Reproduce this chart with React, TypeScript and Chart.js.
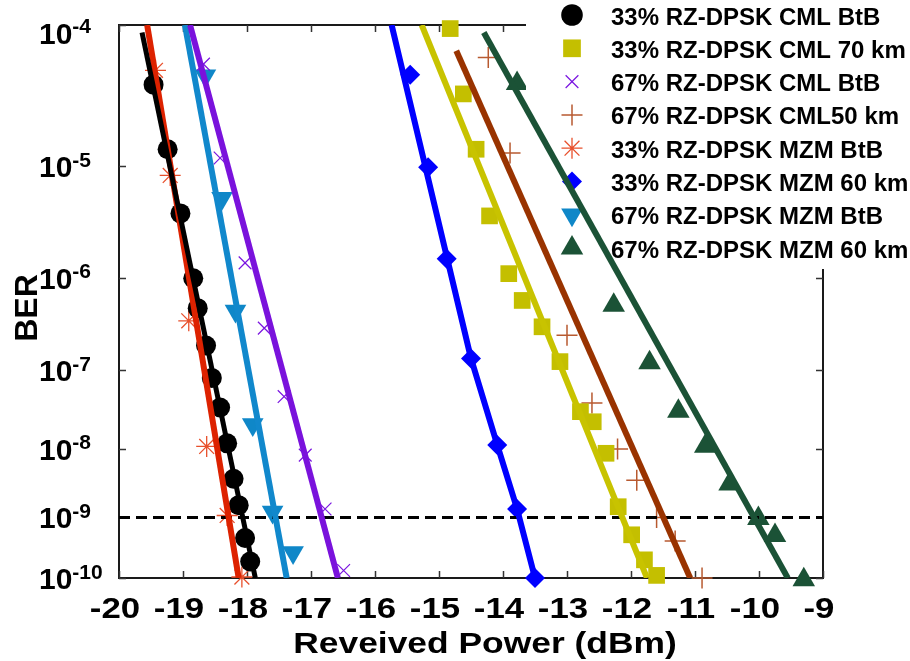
import React, { useEffect, useRef } from 'react';
import { Chart, registerables } from 'chart.js';

Chart.register(...registerables);

// ---------- axis definitions ----------
const xTickValues = [-20, -19, -18, -17, -16, -15, -14, -13, -12, -11, -10, -9];
const yTickExponents = [-4, -5, -6, -7, -8, -9, -10];
const xTitle = 'Reveived Power (dBm)';
const yTitle = 'BER';
const berThreshold = 1e-9;

// ---------- series (power in dBm, BER) ----------
const cmlBtb33X = [-19.46, -19.24, -19.04, -18.84, -18.77, -18.64, -18.55, -18.42, -18.31, -18.21, -18.13, -18.03, -17.95];
const cmlBtb33Y = [4.06e-5, 1.36e-5, 4.0e-6, 9.9e-7, 4.9e-7, 1.92e-7, 8.1e-8, 3.5e-8, 1.19e-8, 3.8e-9, 1.54e-9, 4.7e-10, 1.92e-10];
const cmlBtb33FitX = [-19.64, -17.87];
const cmlBtb33FitY = [8.97e-5, 1e-10];

const cml70km33X = [-14.825, -14.62, -14.42, -14.21, -13.91, -13.7, -13.39, -13.11, -12.79, -12.59, -12.39, -12.2, -11.99, -11.79, -11.6];
const cml70km33Y = [9.5e-5, 3.5e-5, 1.36e-5, 3.8e-6, 1.1e-6, 5.9e-7, 3.1e-7, 1.26e-7, 3.1e-8, 2.3e-8, 8.7e-9, 1.46e-9, 5.3e-10, 2.05e-10, 1.11e-10];
const cml70km33FitX = [-15.27, -11.75];
const cml70km33FitY = [1e-4, 1e-10];

const cmlBtb67X = [-18.68, -18.42, -18.03, -17.73, -17.42, -17.09, -16.78, -16.49];
const cmlBtb67Y = [5.6e-5, 1.16e-5, 1.4e-6, 3.0e-7, 4.8e-8, 8.2e-9, 1.35e-9, 1.35e-10];
const cmlBtb67FitX = [-18.89, -16.58];
const cmlBtb67FitY = [1e-4, 1e-10];

const cml50km67X = [-14.23, -13.89, -13.0, -12.61, -12.21, -11.91, -11.6, -11.31, -10.89];
const cml50km67Y = [6.2e-5, 1.27e-5, 2.5e-7, 4.0e-8, 1.0e-8, 3.6e-9, 1.0e-9, 4.2e-10, 1.0e-10];
const cml50km67FitX = [-14.73, -11.075];
const cml50km67FitY = [6.86e-5, 1e-10];

const mzmBtb33X = [-19.43, -19.2, -18.91, -18.63, -18.31, -18.08];
const mzmBtb33Y = [5.09e-5, 8.4e-6, 3.6e-7, 1.08e-8, 1.07e-9, 1.04e-10];
const mzmBtb33FitX = [-19.56, -18.13];
const mzmBtb33FitY = [1e-4, 1e-10];

const mzm60km33X = [-15.45, -15.17, -14.88, -14.5, -14.09, -13.78, -13.5];
const mzm60km33Y = [4.75e-5, 9.8e-6, 1.53e-6, 1.37e-7, 1.13e-8, 1.35e-9, 1.0e-10];
const mzm60km33FitX = [-15.74, -14.5, -14.09, -13.78, -13.5];
const mzm60km33FitY = [1e-4, 1.37e-7, 1.13e-8, 1.35e-9, 1e-10];

const mzmBtb67X = [-18.65, -18.39, -18.18, -17.91, -17.6, -17.28];
const mzmBtb67Y = [4.68e-5, 5.42e-6, 4.57e-7, 2.11e-8, 1.21e-9, 2.73e-10];
const mzmBtb67FitX = [-18.97, -17.38];
const mzmBtb67FitY = [1e-4, 1e-10];

const mzm60km67X = [-13.78, -12.27, -11.71, -11.26, -10.84, -10.46, -10.01, -9.75, -9.3];
const mzm60km67Y = [4.13e-5, 5.26e-7, 1.22e-7, 3.13e-8, 1.09e-8, 3.18e-9, 9.6e-10, 5.15e-10, 9.3e-11];
const mzm60km67FitX = [-14.3, -9.55];
const mzm60km67FitY = [8.97e-5, 1e-10];

// ---------- BER -> Q (dB) transform for the axis ----------
function erfc(x: number): number {
  const z = Math.abs(x);
  const t = 1 / (1 + 0.5 * z);
  const r =
    t *
    Math.exp(
      -z * z - 1.26551223 +
        t * (1.00002368 + t * (0.37409196 + t * (0.09678418 + t * (-0.18628806 + t * (0.27886807 + t * (-1.13520398 + t * (1.48851587 + t * (-0.82215223 + t * 0.17087277))))))))
    );
  return x >= 0 ? r : 2 - r;
}
function qFromBer(ber: number): number {
  let lo = 0;
  let hi = 40;
  for (let i = 0; i < 100; i++) {
    const mid = (lo + hi) / 2;
    if (0.5 * erfc(mid / Math.SQRT2) > ber) lo = mid;
    else hi = mid;
  }
  return (lo + hi) / 2;
}
function berAxis(ber: number): number {
  return 20 * Math.log10(qFromBer(ber));
}
function pts(xs: number[], ys: number[]) {
  return xs.map((x, i) => ({ x, y: berAxis(ys[i]) }));
}

const FONT = '"Liberation Sans", Arial, Helvetica, sans-serif';

type Series = {
  label: string;
  xs: number[];
  ys: number[];
  fx: number[];
  fy: number[];
  style: string;
  rotation?: number;
  radius: number;
  fill: string;
  stroke: string;
  markerBorder: number;
  lineColor: string;
  lineWidth: number;
};

const series: Series[] = [
  { label: '33% RZ-DPSK CML BtB', xs: cmlBtb33X, ys: cmlBtb33Y, fx: cmlBtb33FitX, fy: cmlBtb33FitY, style: 'circle', radius: 10, fill: '#000000', stroke: '#000000', markerBorder: 0, lineColor: '#000000', lineWidth: 5 },
  { label: '33% RZ-DPSK CML 70 km', xs: cml70km33X, ys: cml70km33Y, fx: cml70km33FitX, fy: cml70km33FitY, style: 'rect', radius: 11.8, fill: '#c4bf00', stroke: '#c4bf00', markerBorder: 0, lineColor: '#c8c300', lineWidth: 6 },
  { label: '67% RZ-DPSK CML BtB', xs: cmlBtb67X, ys: cmlBtb67Y, fx: cmlBtb67FitX, fy: cmlBtb67FitY, style: 'crossRot', radius: 9, fill: '#7a14e0', stroke: '#7a14e0', markerBorder: 1.2, lineColor: '#7a12dc', lineWidth: 6 },
  { label: '67% RZ-DPSK CML50 km', xs: cml50km67X, ys: cml50km67Y, fx: cml50km67FitX, fy: cml50km67FitY, style: 'cross', radius: 10.5, fill: '#b85a30', stroke: '#b85a30', markerBorder: 1.5, lineColor: '#993300', lineWidth: 6 },
  { label: '33% RZ-DPSK MZM BtB', xs: mzmBtb33X, ys: mzmBtb33Y, fx: mzmBtb33FitX, fy: mzmBtb33FitY, style: 'star', radius: 10.5, fill: '#e8502c', stroke: '#e8502c', markerBorder: 1.3, lineColor: '#dd2200', lineWidth: 6 },
  { label: '33% RZ-DPSK MZM 60 km', xs: mzm60km33X, ys: mzm60km33Y, fx: mzm60km33FitX, fy: mzm60km33FitY, style: 'rectRot', radius: 10, fill: '#0000ff', stroke: '#0000ff', markerBorder: 0, lineColor: '#0000ff', lineWidth: 6 },
  { label: '67% RZ-DPSK MZM BtB', xs: mzmBtb67X, ys: mzmBtb67Y, fx: mzmBtb67FitX, fy: mzmBtb67FitY, style: 'triangle', rotation: 180, radius: 12.5, fill: '#0f87c8', stroke: '#0f87c8', markerBorder: 0, lineColor: '#1188cc', lineWidth: 6 },
  { label: '67% RZ-DPSK MZM 60 km', xs: mzm60km67X, ys: mzm60km67Y, fx: mzm60km67FitX, fy: mzm60km67FitY, style: 'triangle', radius: 13, fill: '#1b5236', stroke: '#1b5236', markerBorder: 0, lineColor: '#1b5236', lineWidth: 6 },
];

function drawSymbol(ctx: CanvasRenderingContext2D, s: Series, x: number, y: number) {
  const r = s.radius;
  ctx.save();
  ctx.fillStyle = s.fill;
  ctx.strokeStyle = s.stroke;
  ctx.lineWidth = s.markerBorder || 1;
  ctx.beginPath();
  if (s.style === 'circle') {
    ctx.arc(x, y, r + 0.8, 0, Math.PI * 2);
    ctx.fill();
  } else if (s.style === 'rect') {
    const h = (Math.SQRT2 * r) / 2 + 0.5;
    ctx.fillRect(x - h, y - h, 2 * h, 2 * h);
  } else if (s.style === 'rectRot') {
    ctx.moveTo(x, y - r);
    ctx.lineTo(x + r, y);
    ctx.lineTo(x, y + r);
    ctx.lineTo(x - r, y);
    ctx.closePath();
    ctx.fill();
  } else if (s.style === 'triangle') {
    const rot = ((s.rotation || 0) * Math.PI) / 180;
    for (let k = 0; k < 3; k++) {
      const a = rot + (k * 2 * Math.PI) / 3;
      const px = x + Math.sin(a) * r;
      const py = y - Math.cos(a) * r;
      if (k === 0) ctx.moveTo(px, py);
      else ctx.lineTo(px, py);
    }
    ctx.closePath();
    ctx.fill();
  } else {
    const drawCross = () => {
      ctx.moveTo(x - r, y);
      ctx.lineTo(x + r, y);
      ctx.moveTo(x, y - r);
      ctx.lineTo(x, y + r);
    };
    const drawX = () => {
      const d = r * Math.SQRT1_2;
      ctx.moveTo(x - d, y - d);
      ctx.lineTo(x + d, y + d);
      ctx.moveTo(x - d, y + d);
      ctx.lineTo(x + d, y - d);
    };
    if (s.style === 'cross') drawCross();
    if (s.style === 'crossRot') drawX();
    if (s.style === 'star') {
      drawCross();
      drawX();
    }
    ctx.stroke();
  }
  ctx.restore();
}

const framePlugin = {
  id: 'berFrame',
  beforeDatasetsDraw(chart: any) {
    const { ctx, chartArea } = chart;
    const xs = chart.scales.x;
    const ys = chart.scales.y;
    const { left, right, top, bottom } = chartArea;
    ctx.save();
    ctx.strokeStyle = '#1a1a1a';
    ctx.lineWidth = 2;
    ctx.strokeRect(left, top, right - left, bottom - top);
    ctx.lineWidth = 1.5;
    ctx.strokeStyle = '#333';
    ctx.beginPath();
    xTickValues.forEach((v) => {
      const px = Math.round(xs.getPixelForValue(v)) + 0.5;
      ctx.moveTo(px, bottom);
      ctx.lineTo(px, bottom - 7);
      ctx.moveTo(px, top);
      ctx.lineTo(px, top + 7);
    });
    yTickExponents.forEach((e) => {
      const py = Math.round(ys.getPixelForValue(berAxis(Math.pow(10, e)))) + 0.5;
      ctx.moveTo(left, py);
      ctx.lineTo(left + 7, py);
      ctx.moveTo(right, py);
      ctx.lineTo(right - 7, py);
    });
    ctx.stroke();
    ctx.restore();
  },
  afterDatasetDraw(chart: any, args: any) {
    if (args.index !== 0) return;
    const { ctx } = chart;
    ctx.save();
    // legend box
    ctx.fillStyle = '#ffffff';
    ctx.fillRect(526, 0, 910 - 526, 269);
    ctx.font = `bold 24px ${FONT}`;
    ctx.fillStyle = '#000';
    ctx.textAlign = 'left';
    ctx.textBaseline = 'alphabetic';
    series.forEach((s, i) => {
      const cy = 15 + i * 33.3;
      drawSymbol(ctx, s, 572, cy);
      ctx.fillStyle = '#000';
      ctx.fillText(s.label, 611, cy + 9.5);
    });
    ctx.restore();
  },
  afterDraw(chart: any) {
    const { ctx } = chart;
    const xs = chart.scales.x;
    const ys = chart.scales.y;
    ctx.save();
    ctx.fillStyle = '#000';
    // y tick labels
    yTickExponents.forEach((e) => {
      const py = ys.getPixelForValue(berAxis(Math.pow(10, e)));
      const base = Math.max(py + 11, 43.5);
      ctx.textAlign = 'left';
      ctx.textBaseline = 'alphabetic';
      ctx.font = `bold 30px ${FONT}`;
      ctx.fillText('10', 39, base);
      const w = ctx.measureText('10').width;
      ctx.font = `bold 21px ${FONT}`;
      ctx.fillText(String(e), 39 + w, base - 10.5);
    });
    // x tick labels
    xTickValues.forEach((v) => {
      const px = xs.getPixelForValue(v);
      ctx.save();
      ctx.translate(px - 4, 618);
      ctx.scale(1.2, 1);
      ctx.font = `bold 29px ${FONT}`;
      ctx.textAlign = 'center';
      ctx.textBaseline = 'alphabetic';
      ctx.fillText(String(v), 0, 0);
      ctx.restore();
    });
    // x title
    ctx.save();
    ctx.translate(485, 653);
    ctx.scale(1.18, 1);
    ctx.font = `bold 30px ${FONT}`;
    ctx.textAlign = 'center';
    ctx.fillText(xTitle, 0, 0);
    ctx.restore();
    // y title
    ctx.save();
    ctx.translate(36.5, 308);
    ctx.rotate(-Math.PI / 2);
    ctx.font = `bold 32px ${FONT}`;
    ctx.textAlign = 'center';
    ctx.textBaseline = 'alphabetic';
    ctx.fillText(yTitle, 0, 0);
    ctx.restore();
    ctx.restore();
  },
};

export default function App() {
  const canvasRef = useRef<HTMLCanvasElement | null>(null);

  useEffect(() => {
    const canvas = canvasRef.current;
    if (!canvas) return;

    const markerSets = series.map((s) => ({
      label: s.label,
      data: pts(s.xs, s.ys),
      showLine: false,
      pointStyle: s.style,
      pointRotation: s.rotation || 0,
      pointRadius: s.radius,
      pointBackgroundColor: s.fill,
      pointBorderColor: s.stroke,
      pointBorderWidth: s.markerBorder,
      clip: false as any,
      order: 2,
    }));
    const fitSets = series.map((s) => ({
      label: s.label + ' fit',
      data: pts(s.fx, s.fy),
      showLine: true,
      pointRadius: 0,
      borderColor: s.lineColor,
      borderWidth: s.lineWidth,
      borderCapStyle: 'butt' as const,
      borderJoinStyle: 'round' as const,
      order: 1,
    }));
    const thresholdSet = {
      label: 'threshold',
      data: [
        { x: xTickValues[0], y: berAxis(berThreshold) },
        { x: xTickValues[xTickValues.length - 1], y: berAxis(berThreshold) },
      ],
      showLine: true,
      pointRadius: 0,
      borderColor: '#000000',
      borderWidth: 3,
      borderDash: [11, 6],
      order: 1,
    };

    const chart = new Chart(canvas, {
      type: 'scatter',
      data: { datasets: [...markerSets, ...fitSets, thresholdSet] as any },
      options: {
        responsive: false,
        animation: false,
        devicePixelRatio: 1,
        events: [],
        layout: { padding: { left: 119, right: 87, top: 25, bottom: 83 } },
        plugins: { legend: { display: false }, tooltip: { enabled: false } },
        scales: {
          x: { type: 'linear', min: xTickValues[0], max: xTickValues[xTickValues.length - 1], display: false },
          y: {
            type: 'linear',
            min: berAxis(Math.pow(10, yTickExponents[0])),
            max: berAxis(Math.pow(10, yTickExponents[yTickExponents.length - 1])),
            reverse: true,
            display: false,
          },
        },
      },
      plugins: [framePlugin],
    });
    return () => chart.destroy();
  }, []);

  return (
    <div style={{ position: 'fixed', left: 0, top: 0, width: 910, height: 661, background: '#fff' }}>
      <canvas ref={canvasRef} width={910} height={661} style={{ display: 'block' }} />
    </div>
  );
}
